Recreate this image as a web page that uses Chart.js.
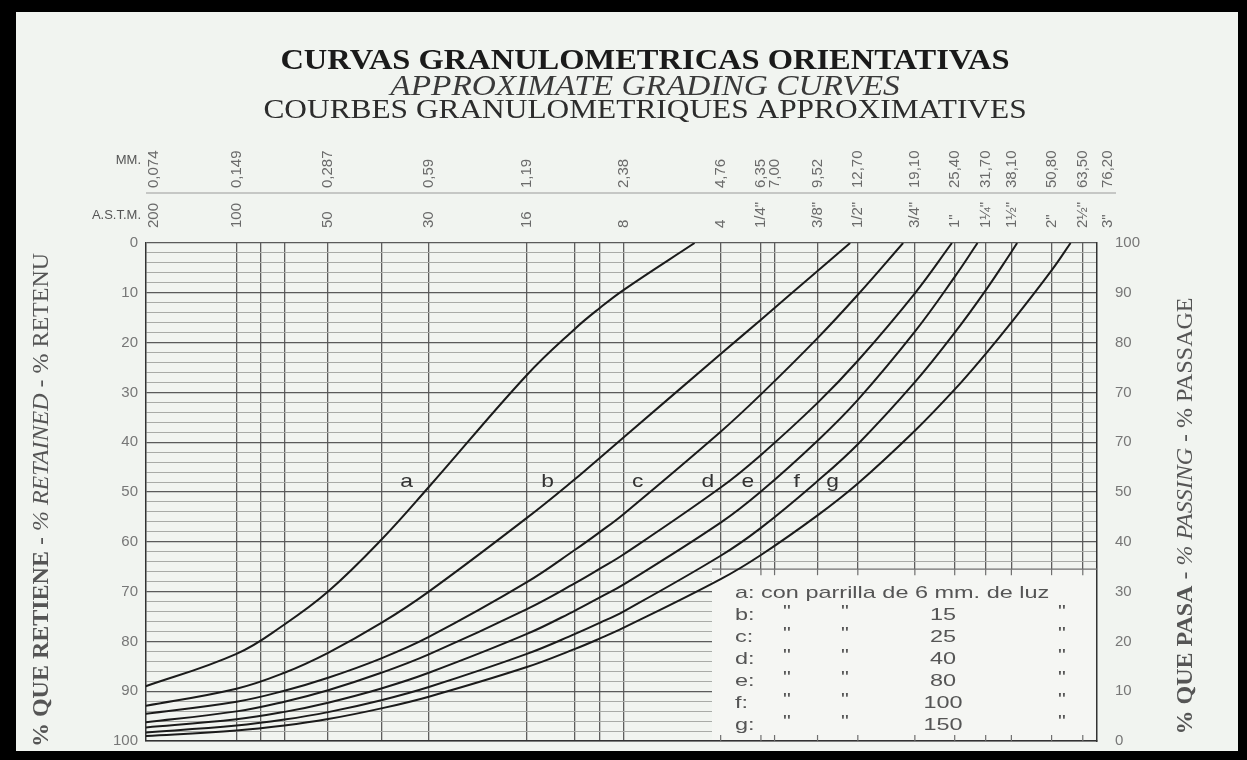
<!DOCTYPE html>
<html><head><meta charset="utf-8">
<script src="https://cdn.jsdelivr.net/npm/chart.js@4.4.0/dist/chart.umd.min.js"></script>
<style>
html,body{margin:0;padding:0;background:#000;}
#wrap{position:relative;width:1247px;height:760px;}
canvas{display:block;}
</style></head><body>
<div id="wrap"><canvas id="c" width="1247" height="760"></canvas></div>
<script>
// ---------- data ----------
const sieveMM = [0.074, 0.149, 0.21, 0.287, 0.42, 0.59, 1.19, 1.68, 2.0, 2.38, 4.76, 6.35, 9.52, 12.7, 19.1, 25.4, 31.7, 38.1, 50.8];
// % passing at each sieve (missing once the curve has reached 100 %)
const curveA = [10.5, 17.5, 23.4, 30, 40.4, 51, 73.5, 82.8, 86.9, 90.6];
const curveB = [6.8, 10.5, 13.7, 17.7, 23.7, 30, 44.8, 52.6, 56.8, 61, 77.7, 84.6, 94.4];
const curveC = [5.3, 7.9, 10.1, 12.7, 16.6, 20.9, 31.9, 38.4, 41.9, 45.6, 62.1, 69.6, 80.9, 89.6];
const curveD = [3.6, 5.95, 7.9, 10.2, 13.7, 17.4, 26.5, 31.7, 34.55, 37.5, 50.9, 57.45, 67.9, 76.35, 89.9];
const curveE = [2.6, 4.35, 5.85, 7.7, 10.55, 13.7, 21.5, 26.2, 28.8, 31.45, 43.85, 50.1, 60.3, 68.5, 82.2, 93.2];
const curveF = [1.6, 3.1, 4.3, 5.8, 8.2, 10.85, 17.5, 21.5, 23.7, 26.05, 37.2, 42.8, 52.2, 59.6, 72.05, 82, 90.5, 98.2];
const curveG = [0.9, 2.1, 3.1, 4.4, 6.55, 8.9, 14.85, 18.5, 20.55, 22.75, 32.5, 37.35, 45.3, 51.7, 62.3, 70.6, 77.75, 84.05, 94.5];
// size (mm) where each curve reaches 100 % passing
const topSize = [3.95, 12.02, 17.56, 24.9, 29.9, 39.7, 58.2];
const curveNames = ['a', 'b', 'c', 'd', 'e', 'f', 'g'];
const curveLabelSize = [0.503, 1.38, 2.63, 4.34, 5.78, 8.2, 10.6];
const curveLabelPassing = 52;

const gridMM = [0.074, 0.149, 0.177, 0.21, 0.287, 0.42, 0.59, 1.19, 1.68, 2.0, 2.38, 4.76, 6.35, 7.0, 9.52, 12.7, 19.1, 25.4, 31.7, 38.1, 50.8, 63.5, 76.2];
const mmValues = [0.074, 0.149, 0.287, 0.59, 1.19, 2.38, 4.76, 6.35, 7.0, 9.52, 12.7, 19.1, 25.4, 31.7, 38.1, 50.8, 63.5, 76.2];
const mmLabels = ['0,074', '0,149', '0,287', '0,59', '1,19', '2,38', '4,76', '6,35', '7,00', '9,52', '12,70', '19,10', '25,40', '31,70', '38,10', '50,80', '63,50', '76,20'];
const astmLabels = ['200', '100', '50', '30', '16', '8', '4', '1/4"', '', '3/8"', '1/2"', '3/4"', '1"', '1¼"', '1½"', '2"', '2½"', '3"'];
const passingTickLabels = ['100', '90', '80', '70', '70', '50', '40', '30', '20', '10', '0'];
const legendLetters = ['a:', 'b:', 'c:', 'd:', 'e:', 'f:', 'g:'];
const legendGrid = ['6', '15', '25', '40', '80', '100', '150'];

const titleLines = ['CURVAS GRANULOMETRICAS ORIENTATIVAS', 'APPROXIMATE GRADING CURVES', 'COURBES GRANULOMETRIQUES APPROXIMATIVES'];
const leftTitle = ['% QUE RETIENE', ' - ', '% RETAINED', ' - ', '% RETENU'];
const rightTitle = ['% QUE PASA', ' - ', '% PASSING', ' - ', '% PASSAGE'];

// ---------- styling ----------
const W = 1247, H = 760;
const PAPER = '#f1f4f0';
const SANS = '"Liberation Sans", Arial, sans-serif';
const SERIF = '"Liberation Serif", "Times New Roman", serif';
const GREY = '#6a6a6a';

function buildPoints(vals, top) {
  const pts = [];
  vals.forEach((v, i) => { if (v !== null && v !== undefined) pts.push({ x: sieveMM[i], y: v }); });
  pts.push({ x: top, y: 100 });
  return pts;
}
const curves = [curveA, curveB, curveC, curveD, curveE, curveF, curveG];
const datasets = curves.map((vals, i) => ({
  label: curveNames[i],
  data: buildPoints(vals, topSize[i]),
  borderColor: '#1b1b1b',
  borderWidth: 2,
  pointRadius: 0,
  showLine: true,
  fill: false,
  tension: 0.4,
  xAxisID: 'x',
  yAxisID: 'yPass'
}));

function txt(ctx, s, x, y, font, color, align, base, sx) {
  ctx.save();
  ctx.font = font; ctx.fillStyle = color;
  ctx.textAlign = align || 'left'; ctx.textBaseline = base || 'middle';
  ctx.translate(x, y); ctx.scale(sx || 1, 1);
  ctx.fillText(s, 0, 0);
  ctx.restore();
}
function vtxt(ctx, s, x, y, font, color, align) {
  ctx.save();
  ctx.font = font; ctx.fillStyle = color;
  ctx.textAlign = align || 'left'; ctx.textBaseline = 'middle';
  ctx.translate(x, y); ctx.rotate(-Math.PI / 2);
  ctx.fillText(s, 0, 0);
  ctx.restore();
}
function sideTitle(ctx, parts, fonts, cx, cy, color) {
  ctx.save();
  ctx.translate(cx, cy); ctx.rotate(-Math.PI / 2);
  ctx.fillStyle = color; ctx.textBaseline = 'middle'; ctx.textAlign = 'left';
  let total = 0;
  const ws = parts.map((p, i) => { ctx.font = fonts[i]; const w = ctx.measureText(p).width; total += w; return w; });
  let x = -total / 2;
  parts.forEach((p, i) => { ctx.font = fonts[i]; ctx.fillText(p, x, 0); x += ws[i]; });
  ctx.restore();
}
function line(ctx, x1, y1, x2, y2) { ctx.beginPath(); ctx.moveTo(x1, y1); ctx.lineTo(x2, y2); ctx.stroke(); }

const decor = {
  id: 'decor',
  beforeDraw(chart) {
    const ctx = chart.ctx;
    ctx.save();
    ctx.fillStyle = '#000'; ctx.fillRect(0, 0, W, H);
    ctx.fillStyle = PAPER; ctx.fillRect(16, 12, 1222, 739);
    ctx.restore();
  },
  beforeDatasetsDraw(chart) {
    const ctx = chart.ctx, xs = chart.scales.x, yr = chart.scales.yRet, ca = chart.chartArea;
    const bx = 712, by = yr.getPixelForValue(65.5);
    ctx.save();
    ctx.fillStyle = '#f5f6f3';
    ctx.fillRect(bx, by, ca.right - bx - 1, ca.bottom - by - 1);
    ctx.strokeStyle = '#6f6f6f'; ctx.lineWidth = 1.2;
    line(ctx, bx, by, ca.right, by);
    gridMM.forEach(v => {
      const px = xs.getPixelForValue(v);
      if (px > bx + 2 && px < ca.right - 2) {
        line(ctx, px, by, px, by + 6);
        line(ctx, px, ca.bottom - 6, px, ca.bottom);
      }
    });
    ctx.restore();
  },
  afterDraw(chart) {
    const ctx = chart.ctx, xs = chart.scales.x, yp = chart.scales.yPass, ca = chart.chartArea;
    // titles
    txt(ctx, titleLines[0], 645, 62, 'bold 29px ' + SERIF, '#1a1a1a', 'center', 'middle', 1.12);
    txt(ctx, titleLines[1], 645, 87, 'italic 29px ' + SERIF, '#3a3a3a', 'center', 'middle', 1.15);
    txt(ctx, titleLines[2], 645, 111, '28px ' + SERIF, '#2c2c2c', 'center', 'middle', 1.12);
    // header rows
    ctx.save(); ctx.strokeStyle = '#9a9a9a'; ctx.lineWidth = 1; line(ctx, 146, 193, 1116, 193); ctx.restore();
    txt(ctx, 'MM.', 141, 160, '13px ' + SANS, '#555', 'right');
    txt(ctx, 'A.S.T.M.', 141, 215, '13px ' + SANS, '#555', 'right');
    mmValues.forEach((v, i) => {
      let px = xs.getPixelForValue(v);
      px = Math.min(Math.max(px, ca.left + 8), ca.right + 11);
      vtxt(ctx, mmLabels[i], px, 188, '15px ' + SANS, GREY, 'left');
      if (astmLabels[i]) vtxt(ctx, astmLabels[i], px, 228, '15px ' + SANS, GREY, 'left');
    });
    // side titles
    const f = 24;
    const fonts = ['bold ' + f + 'px ' + SERIF, f + 'px ' + SERIF, 'italic ' + f + 'px ' + SERIF, f + 'px ' + SERIF, f + 'px ' + SERIF];
    sideTitle(ctx, leftTitle, fonts, 42, 500, '#555');
    sideTitle(ctx, rightTitle, fonts, 1186, 516, '#555');
    // curve labels
    curveNames.forEach((n, i) => {
      txt(ctx, n, xs.getPixelForValue(curveLabelSize[i]), yp.getPixelForValue(curveLabelPassing), '19px ' + SANS, '#333', 'center', 'middle', 1.2);
    });
    // legend
    const lf = '17px ' + SANS, lc = '#555';
    legendLetters.forEach((l, i) => {
      const y = 593 + 22 * i;
      if (i === 0) {
        txt(ctx, l + ' con parrilla de ' + legendGrid[0] + ' mm. de luz', 735, y, lf, lc, 'left', 'middle', 1.38);
      } else {
        txt(ctx, l, 735, y, lf, lc, 'left', 'middle', 1.38);
        txt(ctx, '"', 787, y - 3, lf, lc, 'center', 'middle', 1.3);
        txt(ctx, '"', 845, y - 3, lf, lc, 'center', 'middle', 1.3);
        txt(ctx, legendGrid[i], 943, y, lf, lc, 'center', 'middle', 1.38);
        txt(ctx, '"', 1062, y - 3, lf, lc, 'center', 'middle', 1.3);
      }
    });
  }
};

const tickFont = { family: '"Liberation Sans", Arial, sans-serif', size: 15 };

new Chart(document.getElementById('c'), {
  type: 'scatter',
  data: { datasets },
  options: {
    responsive: false,
    animation: false,
    devicePixelRatio: 1,
    layout: { padding: { left: 0, right: 0, top: 243, bottom: 12 } },
    plugins: { legend: { display: false }, tooltip: { enabled: false }, title: { display: false } },
    scales: {
      x: {
        type: 'logarithmic', position: 'bottom', min: 0.078, max: 70.3,
        afterBuildTicks: s => { s.ticks = gridMM.filter(v => v > 0.078 && v < 70.3).map(v => ({ value: v })); },
        afterFit: s => { s.height = 0; },
        ticks: { display: false },
        grid: { color: '#5e5e5e', lineWidth: 1.3, drawTicks: false },
        border: { display: true, color: '#333', width: 1.5 }
      },
      yRet: {
        type: 'linear', position: 'left', reverse: true, min: 0, max: 100,
        afterBuildTicks: s => { const t = []; for (let v = 0; v <= 100; v += 2) t.push({ value: v }); s.ticks = t; },
        afterFit: s => { s.width = 146; },
        ticks: { autoSkip: false, padding: 8, color: '#777', font: tickFont, callback: v => (v % 10 === 0 ? String(v) : '') },
        grid: {
          drawTicks: false,
          color: c => (c.tick && c.tick.value % 10 === 0 ? '#5a5a5a' : '#a9aba7'),
          lineWidth: c => (c.tick && c.tick.value % 10 === 0 ? 1.3 : 1)
        },
        border: { display: true, color: '#333', width: 1.5 }
      },
      yPass: {
        type: 'linear', position: 'right', min: 0, max: 100,
        afterBuildTicks: s => { const t = []; for (let v = 0; v <= 100; v += 10) t.push({ value: v }); s.ticks = t; },
        afterFit: s => { s.width = 150; },
        ticks: { autoSkip: false, padding: 10, color: '#777', font: tickFont, callback: v => passingTickLabels[10 - Math.round(v / 10)] },
        grid: { display: false },
        border: { display: true, color: '#333', width: 1.5 }
      }
    }
  },
  plugins: [decor]
});
</script>
</body></html>
